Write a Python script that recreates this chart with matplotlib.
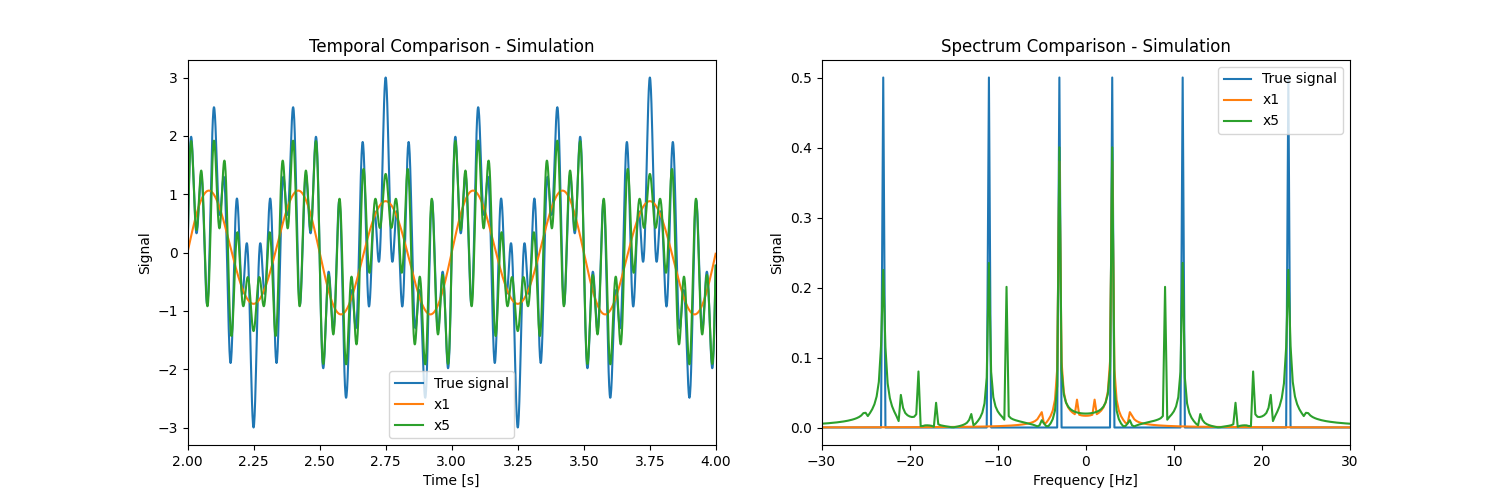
import numpy as np
import matplotlib
matplotlib.use("Agg")
import matplotlib.pyplot as plt

# sine components (Hz, amplitude)
true_freqs = [3, 11, 23]
true_amps = [1.0, 1.0, 1.0]

x1_freqs = [1, 3, 5]
x1_amps = [0.07, 1.0, 0.05]

x5_freqs = [3, 9, 11, 13, 17, 19, 21, 23, 25]
x5_amps = [0.89, 0.38, 0.61, 0.016, 0.10, -0.19, 0.235, 0.805, 0.037]

# spectrum peaks (Hz, height, half width)
x1_pk_freqs = [1, 3, 5]
x1_pk_heights = [0.035, 0.38, 0.02]
x1_pk_widths = [0.005, 0.06, 0.15]
x1_pk_signs = [1, 1, 1]

x5_pk_freqs = [3, 5, 9, 11, 13, 17, 19, 21, 23, 25]
x5_pk_heights = [0.40, 0.010, 0.20, 0.235, 0.018, 0.035, 0.080, 0.042, 0.225, 0.010]
x5_pk_widths = [0.045, 0.15, 0.005, 0.085, 0.10, 0.015, 0.03, 0.08, 0.15, 0.15]
x5_pk_signs = [1, 1, 1, 1, 1, 1, -1, 1, 1, 1]

fs = 1000
duration = 4.0
t = np.arange(0, duration, 1 / fs)


def synth(freqs, amps):
    return sum(a * np.sin(2 * np.pi * f * t) for f, a in zip(freqs, amps))


def line_spectrum(freqs, heights, widths, signs, f):
    y = np.zeros_like(f, dtype=complex)
    for f0, h, w, s in zip(freqs, heights, widths, signs):
        y += s * h * w * (1 / (w + 1j * (f - f0)) - 1 / (w + 1j * (f + f0)))
    return np.abs(y)


true_sig = synth(true_freqs, true_amps)
x1_sig = synth(x1_freqs, x1_amps)
x5_sig = synth(x5_freqs, x5_amps)

freq = np.fft.fftshift(np.fft.fftfreq(len(t), 1 / fs))
true_spec = np.abs(np.fft.fftshift(np.fft.fft(true_sig))) / len(t)
x1_spec = line_spectrum(x1_pk_freqs, x1_pk_heights, x1_pk_widths, x1_pk_signs, freq)
x5_spec = line_spectrum(x5_pk_freqs, x5_pk_heights, x5_pk_widths, x5_pk_signs, freq)

fig, (ax1, ax2) = plt.subplots(1, 2, figsize=(15, 5))

ax1.plot(t, true_sig, label="True signal")
ax1.plot(t, x1_sig, label="x1")
ax1.plot(t, x5_sig, label="x5")
ax1.set_xlim(2, 4)
ax1.set_title("Temporal Comparison - Simulation")
ax1.set_xlabel("Time [s]")
ax1.set_ylabel("Signal")
ax1.legend(loc="lower center")

ax2.plot(freq, true_spec, label="True signal")
ax2.plot(freq, x1_spec, label="x1")
ax2.plot(freq, x5_spec, label="x5")
ax2.set_xlim(-30, 30)
ax2.set_title("Spectrum Comparison - Simulation")
ax2.set_xlabel("Frequency [Hz]")
ax2.set_ylabel("Signal")
ax2.legend(loc="upper right")

fig.savefig("out.png", dpi=100)
